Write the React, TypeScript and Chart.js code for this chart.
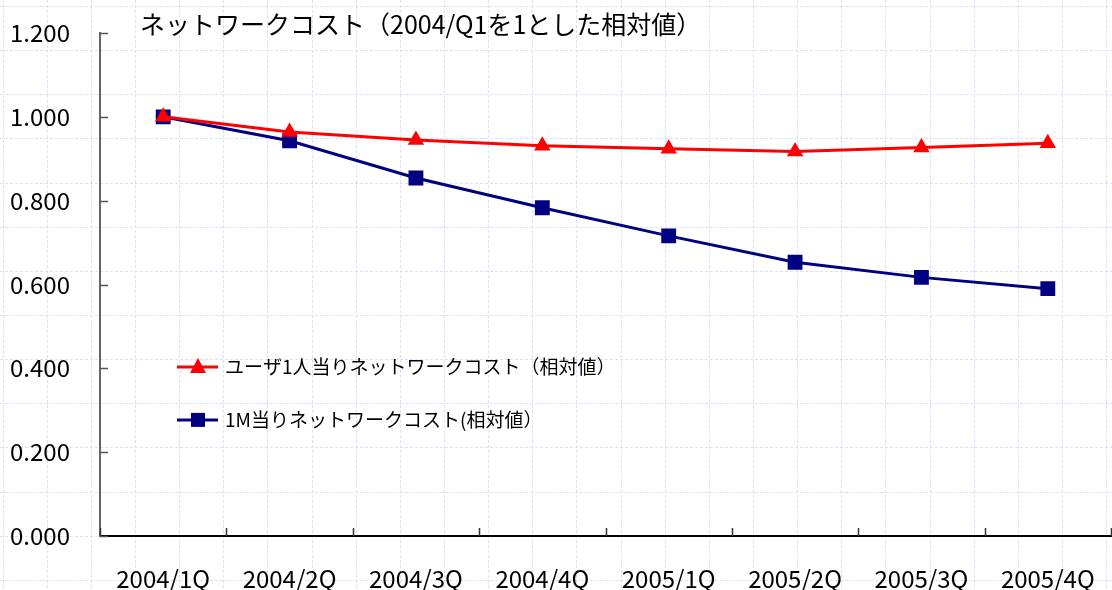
import React, { useEffect, useRef } from "react";
import { Chart, registerables } from "chart.js";

Chart.register(...registerables);

const categories = ["2004/1Q", "2004/2Q", "2004/3Q", "2004/4Q", "2005/1Q", "2005/2Q", "2005/3Q", "2005/4Q"];
const perUser = [1.0, 0.964, 0.945, 0.931, 0.924, 0.917, 0.927, 0.937];
const perMega = [1.0, 0.943, 0.854, 0.783, 0.716, 0.653, 0.617, 0.59];
const seriesNames = ["ユーザ1人当りネットワークコスト（相対値）", "1M当りネットワークコスト(相対値）"];
const titleText = "ネットワークコスト（2004/Q1を1とした相対値）";
const yTicks = [0, 0.2, 0.4, 0.6, 0.8, 1.0, 1.2];

const FONT = '"Noto Sans CJK JP", "Noto Sans", sans-serif';
const RED = "#ff0000";
const NAVY = "#000080";

const bgGrid = {
  id: "bgGrid",
  beforeDraw(chart: any) {
    const { ctx, width, height } = chart;
    ctx.save();
    ctx.fillStyle = "#ffffff";
    ctx.fillRect(0, 0, width, height);
    ctx.strokeStyle = "#d9e1fa";
    ctx.lineWidth = 1;
    ctx.setLineDash([3, 2]);
    const step = 44.15;
    for (let x = 2.5; x < width; x += step) {
      ctx.beginPath();
      ctx.moveTo(Math.round(x) + 0.5, 0);
      ctx.lineTo(Math.round(x) + 0.5, height);
      ctx.stroke();
    }
    for (let y = 6; y < height; y += step) {
      ctx.beginPath();
      ctx.moveTo(0, Math.round(y) + 0.5);
      ctx.lineTo(width, Math.round(y) + 0.5);
      ctx.stroke();
    }
    ctx.restore();
  },
};

const decor = {
  id: "decor",
  afterDraw(chart: any) {
    const { ctx, chartArea } = chart;
    const ys = chart.scales.y;
    ctx.save();
    ctx.strokeStyle = "#555";
    ctx.lineWidth = 1.5;
    yTicks.forEach((v) => {
      const y = Math.round(ys.getPixelForValue(v)) + 0.5;
      ctx.beginPath();
      ctx.moveTo(chartArea.left, y);
      ctx.lineTo(chartArea.left + 8, y);
      ctx.stroke();
    });
    ctx.strokeStyle = "#333";
    const n = categories.length;
    const w = (chartArea.right - chartArea.left) / n;
    for (let i = 0; i <= n; i++) {
      const x = Math.round(chartArea.left + i * w) + 0.5;
      ctx.beginPath();
      ctx.moveTo(x, chartArea.bottom);
      ctx.lineTo(x, chartArea.bottom - 8);
      ctx.stroke();
    }
    ctx.fillStyle = "#000";
    ctx.font = `25px ${FONT}`;
    ctx.textAlign = "left";
    ctx.textBaseline = "middle";
    ctx.fillText(titleText, chartArea.left + 40, chartArea.top - 9);
    const items = [
      { name: seriesNames[0], color: RED, style: "triangle", y: ys.getPixelForValue(0.403) },
      { name: seriesNames[1], color: NAVY, style: "rect", y: ys.getPixelForValue(0.277) },
    ];
    items.forEach((it) => {
      const x0 = chartArea.left + 77;
      const x1 = chartArea.left + 118;
      ctx.strokeStyle = it.color;
      ctx.lineWidth = 3;
      ctx.beginPath();
      ctx.moveTo(x0, it.y);
      ctx.lineTo(x1, it.y);
      ctx.stroke();
      ctx.fillStyle = it.color;
      const cx = chartArea.left + 98;
      if (it.style === "triangle") {
        ctx.beginPath();
        ctx.moveTo(cx, it.y - 9);
        ctx.lineTo(cx + 8, it.y + 6);
        ctx.lineTo(cx - 8, it.y + 6);
        ctx.closePath();
        ctx.fill();
      } else {
        ctx.fillRect(cx - 7, it.y - 7, 14, 14);
      }
      ctx.fillStyle = "#000";
      ctx.font = `19px ${FONT}`;
      ctx.textBaseline = "middle";
      ctx.fillText(it.name, chartArea.left + 125, it.y);
    });
    ctx.restore();
  },
};

export default function App() {
  const ref = useRef<HTMLCanvasElement>(null);
  useEffect(() => {
    if (!ref.current) return;
    const chart = new Chart(ref.current, {
      type: "line",
      data: {
        labels: categories,
        datasets: [
          {
            label: seriesNames[0],
            data: perUser,
            borderColor: RED,
            backgroundColor: RED,
            borderWidth: 3,
            pointStyle: "triangle",
            pointRadius: 9.5,
            pointBorderWidth: 0,
            tension: 0,
          },
          {
            label: seriesNames[1],
            data: perMega,
            borderColor: NAVY,
            backgroundColor: NAVY,
            borderWidth: 3,
            pointStyle: "rect",
            pointRadius: 10.5,
            pointBorderWidth: 0,
            tension: 0,
          },
        ],
      },
      options: {
        animation: false,
        responsive: false,
        devicePixelRatio: 1,
        layout: { autoPadding: false, padding: { top: 33, right: 1, left: 0, bottom: 0 } },
        plugins: { legend: { display: false }, tooltip: { enabled: false }, title: { display: false } },
        scales: {
          x: {
            type: "category",
            offset: true,
            grid: { display: false, drawTicks: false },
            border: { display: true, color: "#000", width: 2 },
            ticks: { color: "#000", font: { family: FONT, size: 24 }, padding: 28, maxRotation: 0 },
            afterFit(scale: any) {
              scale.height = 54;
              scale.paddingLeft = 0;
              scale.paddingRight = 0;
            },
          },
          y: {
            min: 0,
            max: 1.2,
            afterBuildTicks(scale: any) {
              scale.ticks = yTicks.map((v) => ({ value: v }));
            },
            grid: { display: false, drawTicks: false },
            border: { display: true, color: "#666", width: 2 },
            ticks: {
              color: "#000",
              font: { family: FONT, size: 24 },
              padding: 30,
              callback: (v: any) => Number(v).toFixed(3),
            },
            afterFit(scale: any) {
              scale.width = 100;
              scale.paddingTop = 0;
              scale.paddingBottom = 0;
            },
          },
        },
      },
      plugins: [bgGrid, decor],
    });
    return () => chart.destroy();
  }, []);
  return (
    <div style={{ position: "absolute", left: 0, top: 0, width: 1112, height: 590 }}>
      <canvas ref={ref} width={1112} height={590} style={{ display: "block" }} />
    </div>
  );
}
